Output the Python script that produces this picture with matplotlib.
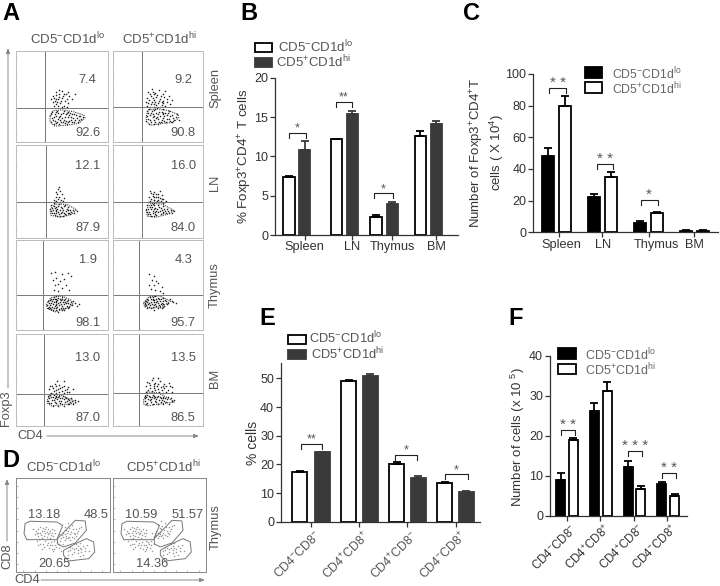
import matplotlib
matplotlib.use('Agg')
import matplotlib.pyplot as plt
from matplotlib.patches import Rectangle, Polygon

plt.rcParams['font.family'] = ['Liberation Sans', 'DejaVu Sans']
plt.rcParams['mathtext.default'] = 'regular'

W, H = 720, 586
LO = r'CD5$^{-}$CD1d$^{lo}$'
HI = r'CD5$^{+}$CD1d$^{hi}$'
TXT = '#555555'
AX = '#333333'
DARK = '#3a3a3a'

# --- bar values ---
tissues = ['Spleen', 'LN', 'Thymus', 'BM']
subsets = [r'CD4$^{-}$CD8$^{-}$', r'CD4$^{+}$CD8$^{+}$', r'CD4$^{+}$CD8$^{-}$', r'CD4$^{-}$CD8$^{+}$']

b_lo = [7.4, 12.2, 2.3, 12.6]
b_hi = [10.8, 15.4, 3.9, 14.1]
b_lo_err = [0.1, 0.05, 0.3, 0.6]
b_hi_err = [1.2, 0.4, 0.3, 0.4]

c_lo = [48, 22, 6, 1]
c_hi = [80, 35, 12, 1]
c_lo_err = [5, 2, 1, 0.5]
c_hi_err = [6, 3, 1, 0.5]

e_lo = [17.5, 49, 20.2, 13.5]
e_hi = [24.2, 50.7, 15.2, 10.3]
e_lo_err = [0.2, 0.4, 0.5, 0.3]
e_hi_err = [0.2, 1.0, 0.6, 0.3]

f_lo = [9, 26.3, 12.3, 8]
f_hi = [19, 31.3, 6.7, 5]
f_lo_err = [1.7, 1.9, 1.5, 0.5]
f_hi_err = [0.4, 2.3, 0.8, 0.4]

# --- flow percentages ---
a_top = [['7.4', '9.2'], ['12.1', '16.0'], ['1.9', '4.3'], ['13.0', '13.5']]
a_bot = [['92.6', '90.8'], ['87.9', '84.0'], ['98.1', '95.7'], ['87.0', '86.5']]

spleen_lo = [(40,50),(43,55),(47,52),(50,56),(54,53),(58,50),(61,47),(42,45),(46,47),(50,48),(53,45),(56,43),(44,41),(48,42),(52,39),(40,44),(47,57),
             (41,48),(44,51),(49,45),(51,50),(55,47),(45,44),(43,47),(47,49),(52,52),(38,47),(57,55),(64,53),(46,39),(50,38),(55,38),(41,39),
             (39,33),(42,30),(45,34),(48,28),(51,32),(54,30),(57,33),(60,27),(63,30),(66,26),(70,28),(73,27),(40,24),(43,20),(46,25),(49,21),(52,24),(55,19),(58,23),(61,21),(64,24),(67,22),(44,28),(50,26),(56,27),
             (38,30),(41,27),(43,33),(46,31),(47,27),(49,30),(52,34),(53,27),(55,32),(58,29),(59,32),(61,30),(62,26),(65,29),(68,28),(71,25),(39,26),(42,23),(45,22),(48,24),(51,21),(54,23),(57,21),(60,24),(63,22),(38,21),(41,19),(47,19),(53,20),(69,24)]
spleen_hi = [(39,55),(43,58),(47,54),(51,57),(55,52),(58,56),(62,50),(38,48),(42,50),(45,46),(48,49),(52,47),(56,45),(60,44),(39,42),(43,44),(46,41),(50,42),(54,40),(58,39),(41,38),(45,38),(49,37),
             (41,53),(45,52),(49,51),(53,50),(57,49),(40,46),(44,48),(47,44),(51,45),(54,44),(42,41),(48,40),(52,38),(56,42),(60,47),(38,39),(44,55),(37,44),(65,46),(63,41),(40,36),(47,36),(55,36),
             (38,34),(42,32),(46,35),(50,30),(54,33),(58,31),(62,34),(66,29),(70,27),(73,24),(38,28),(41,24),(44,27),(47,22),(50,25),(53,21),(56,26),(59,22),(62,25),(65,21),(68,24),(40,19),(45,19),(50,19),
             (39,31),(41,29),(43,34),(44,30),(46,28),(48,32),(49,27),(51,33),(52,28),(55,30),(56,32),(57,28),(60,29),(61,31),(63,28),(67,26),(71,30),(39,25),(42,21),(45,24),(48,26),(51,22),(54,24),(57,23),(60,25),(63,23),(37,23)]
ln_lo = [(46,52),(48,50),(45,47),(50,47),(43,44),(47,44),(52,43),(41,41),(49,41),(44,40),(46,42),(42,38),(48,38),(51,39),(47,55),(44,49),
         (38,35),(41,37),(44,33),(47,36),(50,32),(53,35),(56,33),(59,30),(62,30),(66,29),(38,29),(41,26),(44,29),(47,25),(50,28),(53,25),(56,27),(59,25),(42,32),(48,30),(54,29),(45,23),(51,23),
         (39,32),(40,30),(41,34),(43,27),(43,30),(45,31),(46,34),(46,28),(49,33),(49,27),(51,30),(52,34),(52,27),(55,31),(57,30),(58,27),(60,28),(63,27),(39,26),(42,24),(48,23),(54,24),(37,31)]
ln_hi = [(42,48),(46,49),(50,47),(54,46),(40,44),(44,45),(48,44),(52,43),(56,42),(59,40),(41,40),(45,41),(49,40),(53,39),(43,38),(47,38),(51,38),
         (44,47),(48,47),(46,44),(50,44),(42,42),(46,41),(50,41),(54,42),(39,38),(55,37),(58,38),(41,50),(52,50),
         (38,35),(41,33),(44,36),(47,32),(50,35),(53,32),(56,34),(60,31),(64,30),(68,29),(38,28),(41,25),(44,29),(47,25),(50,28),(53,25),(56,28),(59,26),(62,27),(42,31),(48,29),(45,23),
         (39,31),(40,28),(42,35),(43,33),(44,27),(45,31),(46,35),(47,28),(49,31),(51,33),(52,29),(54,30),(55,26),(57,31),(58,29),(61,29),(65,27),(39,25),(42,23),(48,24),(37,30)]
thymus_lo = [(38,63),(42,64),(50,62),(56,63),(60,60),(40,56),(44,58),(48,55),(52,57),(46,51),(42,50),(54,50),(50,47),(58,44),(46,43),(41,45),
             (35,32),(38,35),(41,37),(44,38),(47,39),(50,37),(53,35),(56,33),(60,31),(64,30),(68,29),(34,28),(37,25),(40,29),(43,32),(46,30),(49,33),(52,29),(55,27),(58,26),(40,22),(43,25),(46,20),(49,24),(52,22),(38,30),(44,28),(50,27),(36,26),(42,34),(48,35),
             (36,30),(37,33),(39,32),(40,34),(41,31),(42,27),(43,35),(44,31),(45,33),(46,36),(47,28),(48,31),(49,29),(50,34),(51,31),(52,33),(53,31),(54,30),(55,32),(57,30),(59,29),(61,28),(62,32),(66,27),(35,24),(38,23),(41,24),(44,22),(47,23),(50,22),(53,24),(56,25),(39,26),(45,26),(51,25),(37,28),(43,29)]
thymus_hi = [(40,62),(46,60),(43,56),(48,55),(40,50),(45,50),(50,52),(54,48),(42,46),(47,44),(52,43),(55,41),
             (35,32),(38,34),(41,37),(44,35),(47,38),(50,36),(53,34),(56,36),(59,32),(63,34),(67,31),(70,30),(36,27),(39,29),(42,31),(45,28),(48,31),(51,28),(54,30),(57,27),(60,29),(38,25),(42,25),(46,22),(50,24),(54,24),(44,33),(48,34),(52,32),
             (36,30),(37,32),(39,33),(40,30),(41,28),(42,34),(43,29),(44,37),(45,31),(46,33),(47,29),(49,32),(50,30),(51,34),(53,29),(55,32),(56,29),(58,33),(61,30),(65,32),(37,28),(40,26),(44,26),(48,27),(52,26),(56,26),(35,29),(38,31)]
bm_lo = [(37,44),(42,46),(47,45),(52,44),(57,42),(62,40),(36,40),(40,41),(44,39),(48,41),(53,39),(58,37),(38,36),(43,36),(47,37),(52,36),
         (39,43),(44,43),(50,42),(55,40),(41,38),(46,40),(50,38),(55,37),(45,49),(52,49),
         (35,33),(38,31),(41,34),(44,31),(47,33),(50,30),(53,32),(56,29),(60,30),(64,28),(67,27),(35,27),(38,25),(41,28),(44,25),(47,27),(50,24),(53,26),(56,24),(59,26),(62,24),(40,22),(46,22),(52,22),
         (36,30),(37,34),(39,28),(40,32),(42,30),(43,33),(45,29),(46,31),(48,30),(49,27),(51,33),(52,29),(54,30),(55,27),(58,28),(61,27),(36,25),(42,26),(48,25),(58,24)]
bm_hi = [(38,48),(43,50),(47,47),(52,49),(57,46),(62,47),(66,42),(37,43),(41,45),(45,43),(49,44),(53,42),(57,41),(61,39),(65,37),(39,39),(43,38),(47,39),(51,37),(55,36),
         (40,47),(45,46),(50,46),(55,44),(59,43),(41,41),(46,41),(50,40),(54,39),(59,37),(44,52),(50,52),(37,37),(63,43),
         (35,33),(38,34),(41,31),(44,34),(47,31),(50,33),(53,30),(56,32),(60,29),(64,30),(68,28),(35,27),(38,25),(41,28),(44,24),(47,27),(50,24),(53,26),(56,24),(59,26),(62,24),
         (36,30),(37,32),(39,29),(40,33),(42,29),(43,31),(45,30),(46,33),(48,29),(49,31),(51,28),(52,32),(54,28),(55,30),(58,30),(61,31),(65,27),(37,24),(42,26),(48,26),(57,27)]
a_dots = [[spleen_lo, spleen_hi], [ln_lo, ln_hi], [thymus_lo, thymus_hi], [bm_lo, bm_hi]]

spleen_lo_line = [(37,28),(40,34),(50,35),(62,33),(74,29),(75,26),(68,20),(55,18),(42,17),(37,22),(37,28)]
spleen_hi_line = [(37,28),(39,35),(50,36),(62,34),(72,30),(73,26),(66,21),(55,20),(42,18),(37,22),(37,28)]
ln_lo_line = [(37,30),(42,36),(55,36),(66,30),(60,25),(48,22),(38,24),(37,30)]
ln_hi_line = [(37,30),(42,37),(55,36),(68,29),(60,25),(48,22),(38,23),(37,30)]
thymus_lo_line = [(33,28),(38,36),(50,38),(60,33),(62,28),(52,23),(42,20),(34,24),(33,28)]
thymus_hi_line = [(34,30),(40,37),(52,38),(64,32),(56,27),(44,24),(35,26),(34,30)]
bm_lo_line = [(34,28),(38,35),(50,33),(62,28),(66,25),(50,23),(38,22),(34,25),(34,28)]
bm_hi_line = [(34,28),(38,37),(50,36),(62,30),(68,26),(52,24),(38,22),(34,24),(34,28)]
a_lines = [[spleen_lo_line, spleen_hi_line], [ln_lo_line, ln_hi_line],
           [thymus_lo_line, thymus_hi_line], [bm_lo_line, bm_hi_line]]

d_lo_dots = [(18,46),(22,42),(26,48),(30,44),(34,40),(38,46),(42,42),(24,38),(28,36),(32,48),(36,36),(40,38),(20,40),(30,38),(34,46),(26,42),
             (21,44),(24,46),(28,44),(31,41),(33,43),(36,44),(39,41),(27,39),(31,46),(37,39),(23,41),(29,47),(35,42),(41,45),(25,35),(33,37),
             (52,48),(56,44),(60,50),(64,46),(58,40),(62,42),(54,38),(50,42),(66,44),(48,36),(52,34),(58,34),(64,38),(70,48),(56,52),(46,40),
             (54,45),(57,47),(59,43),(61,46),(63,40),(55,41),(52,40),(49,39),(57,37),(60,37),(65,42),(67,47),(53,36),(50,37),(56,36),(62,36),
             (26,30),(30,27),(34,31),(38,25),(42,29),(46,26),(50,30),(22,33),(28,24),(36,29),(44,32),(40,22),(48,22),
             (31,33),(33,29),(37,32),(39,29),(41,33),(43,27),(45,30),(47,33),(29,30),(24,29),(35,26),(41,25),(47,29),
             (58,27),(62,24),(66,28),(70,24),(74,26),(78,22),(60,19),(66,20),(72,18),(56,22),(68,31),(76,29),
             (60,26),(64,26),(68,26),(72,28),(58,23),(62,21),(66,23),(70,21),(74,22),(64,30),(56,18),(68,17)]
d_hi_dots = [(12,46),(16,42),(20,48),(24,44),(28,40),(32,46),(36,42),(18,38),(22,36),(26,48),(30,36),(34,38),(14,40),(24,38),(28,46),(20,42),
             (15,44),(18,46),(22,44),(25,41),(27,43),(30,44),(33,41),(21,39),(25,46),(31,39),(17,41),(23,47),(29,42),(35,45),(19,35),(27,37),
             (48,50),(52,46),(56,52),(60,48),(54,42),(58,44),(50,40),(46,44),(62,46),(44,38),(48,36),(54,36),(60,40),(66,50),(52,54),(42,42),
             (50,47),(53,49),(55,45),(57,48),(59,42),(51,43),(48,42),(45,41),(53,39),(56,39),(61,44),(63,49),(49,38),(46,39),(52,38),(58,38),
             (20,30),(24,27),(28,31),(32,25),(36,29),(40,26),(44,30),(16,33),(22,24),(30,29),(38,32),(34,22),(42,22),
             (25,33),(27,29),(31,32),(33,29),(35,33),(37,27),(39,30),(41,33),(23,30),(18,29),(29,26),(35,25),(41,29),
             (56,27),(60,24),(64,28),(68,24),(72,26),(76,22),(58,19),(64,20),(70,18),(54,22),(66,31),(74,29),
             (58,26),(62,26),(66,26),(70,28),(56,23),(60,21),(64,23),(68,21),(72,22),(62,30),(54,18),(66,17)]
d_dots = [d_lo_dots, d_hi_dots]
gate_cd8 = [(9.7,51.4),(15,54),(43.7,53.2),(50,49.6),(43.7,34.4),(11.5,34.4),(8.6,40.8)]
gate_dp = [(44.4,35.5),(63.4,55),(74,54.3),(75.3,44.3),(63.4,30.9),(50.9,26.6),(44.4,30)]
gate_cd4 = [(50.9,23),(63.4,30),(75.3,35.5),(83,32),(84.2,21.3),(77.8,14.2),(56.3,11.7),(50.9,17.7)]
d_labels = [['13.18', '48.5', '20.65'], ['10.59', '51.57', '14.36']]


def px_axes(fig, left, right, top, bottom):
    return fig.add_axes([left / W, 1 - bottom / H, (right - left) / W, (bottom - top) / H])


def flow_panel(fig, box, dots, line, vx, hy, top, bot):
    ax = px_axes(fig, *box)
    ax.set_xlim(0, 100)
    ax.set_ylim(0, 100)
    ax.scatter([p[0] for p in dots], [p[1] for p in dots], s=1.3, c='#222222', linewidths=0)
    ax.plot([p[0] for p in line], [p[1] for p in line], color='#333333', lw=0.8, ls=(0, (1, 1)))
    ax.axvline(vx, color='#777777', lw=0.7)
    ax.axhline(hy, color='#777777', lw=0.7)
    ax.set_xticks([7, 30, 53, 76, 95])
    ax.set_yticks([7, 30, 53, 76, 95])
    ax.tick_params(length=1, width=0.5, color='#bbbbbb', labelbottom=False, labelleft=False, direction='in')
    for s in ax.spines.values():
        s.set_color('#bbbbbb')
        s.set_linewidth(0.7)
    ax.text(78, top[1], top[0], ha='center', va='center', fontsize=9.25, color=TXT)
    ax.text(78, bot[1], bot[0], ha='center', va='center', fontsize=9.25, color=TXT)
    return ax


def bar_panel(fig, box, ymax, yticks, xlo, xhi, width, lo, hi, lo_err, hi_err, xticks, lo_fill, hi_fill):
    ax = px_axes(fig, *box)
    ax.set_xlim(box[0], box[1])
    ax.set_ylim(0, ymax)
    ax.bar(xlo, lo, width=width, color=lo_fill, edgecolor='black', linewidth=1.3)
    ax.bar(xhi, hi, width=width, color=hi_fill, edgecolor='black' if hi_fill == 'white' else hi_fill, linewidth=1.3)
    ax.errorbar(xlo, lo, yerr=[[0] * 4, lo_err], fmt='none', ecolor='black' if lo_fill != DARK else DARK,
                elinewidth=1.3, capsize=2.6, capthick=1.3, zorder=1)
    ax.errorbar(xhi, hi, yerr=[[0] * 4, hi_err], fmt='none', ecolor='black' if hi_fill != DARK else DARK,
                elinewidth=1.3, capsize=2.6, capthick=1.3, zorder=1)
    for s in ['top', 'right']:
        ax.spines[s].set_visible(False)
    for s in ['left', 'bottom']:
        ax.spines[s].set_color('#333333')
        ax.spines[s].set_linewidth(0.9)
    ax.set_yticks(yticks)
    ax.set_xticks(xticks)
    ax.set_xticklabels([])
    ax.tick_params(length=3.5, width=0.9, color='#333333', labelsize=9, labelcolor=AX, pad=1.5)
    return ax


def bracket(ax, x1, x2, ytop, label, size=9, off=3):
    y0, y1 = ax.get_ylim()
    h_px = ax.get_position().height * H
    drop = 5 * (y1 - y0) / h_px
    ax.plot([x1, x1, x2, x2], [ytop - drop, ytop, ytop, ytop - drop], color='#222222', lw=0.8)
    ax.annotate(label, ((x1 + x2) / 2, ytop), xytext=(0, off), textcoords='offset points',
                ha='center', va='center', fontsize=size, color=TXT)


def swatch(ov, x0, x1, y0, y1, fill):
    ov.add_patch(Rectangle((x0, y0), x1 - x0, y1 - y0, facecolor=fill, edgecolor='black' if fill != DARK else DARK, lw=1.3))


fig = plt.figure(figsize=(W / 100, H / 100), dpi=100)

# panel A
a_cols = [(16, 108), (113, 203)]
a_rows = [(51, 141.5), (145, 237.5), (240, 330), (334, 426)]
a_vx = [[31.9, 32], [32.6, 32.7], [29.7, 29.4], [30.4, 29.4]]
a_hy = [[36.6, 37.7], [37.9, 37.9], [38.5, 38.5], [34.7, 35.4]]
a_top_y = [68, 77, 78, 74]
a_bot_y = [9, 10, 8, 9]
for r in range(4):
    for c in range(2):
        box = (a_cols[c][0], a_cols[c][1], a_rows[r][0], a_rows[r][1])
        flow_panel(fig, box, a_dots[r][c], a_lines[r][c], a_vx[r][c], a_hy[r][c],
                   (a_top[r][c], a_top_y[r]), (a_bot[r][c], a_bot_y[r]))

# panel D
d_cols = [(16, 109.5), (113, 206)]
d_text = [[(30, 60.5), (85.5, 60.5), (41, 8)], [(30, 60.5), (80, 60.5), (41.6, 8)]]
for c in range(2):
    ax = px_axes(fig, d_cols[c][0], d_cols[c][1], 478, 572)
    ax.set_xlim(0, 100)
    ax.set_ylim(0, 100)
    ax.scatter([p[0] for p in d_dots[c]], [p[1] for p in d_dots[c]], s=1.2, c='#999999', linewidths=0)
    for g in [gate_cd8, gate_dp, gate_cd4]:
        ax.add_patch(Polygon(g, closed=True, fill=False, edgecolor='#777777', lw=0.7))
    ax.set_xticks([8, 20, 32, 44, 56, 68, 80, 92])
    ax.set_yticks([8, 20, 32, 44, 56, 68, 80, 92])
    ax.tick_params(length=1.2, width=0.5, color='#999999', labelbottom=False, labelleft=False, direction='in')
    for s in ax.spines.values():
        s.set_color('#888888')
        s.set_linewidth(0.7)
    for label, pos in zip(d_labels[c], d_text[c]):
        ax.text(pos[0], pos[1], label, ha='center', va='center', fontsize=9.25, color=TXT, clip_on=False)

# panel B
ax_b = bar_panel(fig, (275, 458, 77.7, 235), 20, [0, 5, 10, 15, 20],
                 [289, 336.3, 376, 420.3], [304.8, 352.2, 392.2, 436.2], 11.3,
                 b_lo, b_hi, b_lo_err, b_hi_err, [304.8, 352.2, 392.2, 436.2], 'white', DARK)
bracket(ax_b, 289.3, 306, 13.0, '*')
bracket(ax_b, 335.7, 352.3, 16.9, '**')
bracket(ax_b, 374.3, 393, 5.3, '*')

# panel C
ax_c = bar_panel(fig, (533.3, 718, 74, 232.3), 100, [0, 20, 40, 60, 80, 100],
                 [547.8, 593.8, 639.8, 686.2], [564.7, 611, 657.3, 703], 12,
                 c_lo, c_hi, c_lo_err, c_hi_err, [558.7, 602.3, 649, 694.3], 'black', 'white')
bracket(ax_c, 549.3, 566.3, 91, '* *', size=11, off=3.5)
bracket(ax_c, 596.7, 613.3, 43.4, '* *', size=11, off=3.5)
bracket(ax_c, 640.7, 657.7, 20.4, '*', size=11, off=3.5)

# panel E
e_ticks = [310.7, 359.3, 407, 455.7]
ax_e = bar_panel(fig, (281, 480, 363.3, 521.7), 55.3, [0, 10, 20, 30, 40, 50],
                 [299.7, 348.8, 396.8, 444.7], [322, 370, 418, 466], 15,
                 e_lo, e_hi, e_lo_err, e_hi_err, e_ticks, 'white', DARK)
bracket(ax_e, 300.7, 322.3, 27.2, '**')
bracket(ax_e, 394.7, 417.3, 23.3, '*')
bracket(ax_e, 445, 467.7, 16.5, '*')

# panel F
f_ticks = [566.7, 600, 634, 667.3]
ax_f = bar_panel(fig, (550, 686.7, 356, 515.7), 40, [0, 10, 20, 30, 40],
                 [560.5, 594.3, 628.2, 661.8], [573, 607, 640.8, 674.5], 9,
                 f_lo, f_hi, f_lo_err, f_hi_err, f_ticks, 'black', 'white')
bracket(ax_f, 560.7, 574.7, 21.5, '* *', size=11, off=3.5)
bracket(ax_f, 627.7, 641.7, 16.3, '* * *', size=11, off=3.5)
bracket(ax_f, 661.7, 675.7, 10.7, '* *', size=11, off=3.5)

# overlay in figure pixels for labels, legends and arrows
ov = fig.add_axes([0, 0, 1, 1], zorder=10)
ov.set_xlim(0, W)
ov.set_ylim(H, 0)
ov.axis('off')

for label, x, y in [('A', 2, 20), ('B', 240, 20), ('C', 463, 20), ('D', 2, 467), ('E', 259, 325), ('F', 508, 325)]:
    ov.text(x, y, label, fontsize=17, fontweight='bold', color='black', ha='left', va='baseline')

for x, y, t in [(68, 39, LO), (160, 39, HI), (64, 467, LO), (164, 467, HI)]:
    ov.text(x, y, t, ha='center', va='center', fontsize=9.5, color=TXT)

for y, t in [(88, 'Spleen'), (183, 'LN'), (285, 'Thymus'), (378, 'BM')]:
    ov.text(215, y, t, rotation=90, ha='center', va='center', fontsize=9.25, color=TXT)
ov.text(216, 527, 'Thymus', rotation=90, ha='center', va='center', fontsize=9.25, color=TXT)

ov.text(6, 408, 'Foxp3', rotation=90, ha='center', va='center', fontsize=9.25, color=TXT)
ov.text(30, 436, 'CD4', ha='center', va='center', fontsize=9.25, color=TXT)
ov.text(7, 556, 'CD8', rotation=90, ha='center', va='center', fontsize=9.25, color=TXT)
ov.text(27, 580, 'CD4', ha='center', va='center', fontsize=9.25, color=TXT)

arrow = dict(arrowstyle='-|>,head_width=0.12,head_length=0.3', color='#888888', lw=0.7, shrinkA=0, shrinkB=0)
ov.annotate('', xy=(8, 48), xytext=(8, 388), arrowprops=arrow)
ov.annotate('', xy=(199, 436), xytext=(47, 436), arrowprops=arrow)
ov.annotate('', xy=(7, 479), xytext=(7, 541), arrowprops=arrow)
ov.annotate('', xy=(205, 580), xytext=(41, 580), arrowprops=arrow)

# legends
swatch(ov, 255, 272, 43, 51.5, 'white')
swatch(ov, 255, 272, 58, 66.5, DARK)
ov.text(277.5, 47.5, LO, va='center', fontsize=9.5, color=TXT)
ov.text(276.5, 62.5, HI, va='center', fontsize=9.5, color=TXT)

swatch(ov, 584.5, 602, 67, 77.5, 'black')
swatch(ov, 584.5, 602, 82, 92.5, 'white')
ov.text(611.5, 73.5, LO, va='center', fontsize=8.8, color='#666666')
ov.text(611.5, 89, HI, va='center', fontsize=8.8, color='#666666')

swatch(ov, 288, 306, 334.5, 344, 'white')
swatch(ov, 288, 306, 349.5, 359, DARK)
ov.text(309, 338.5, LO, va='center', fontsize=9.3, color=TXT)
ov.text(311, 354, HI, va='center', fontsize=9.3, color=TXT)

swatch(ov, 558, 576, 348, 359, 'black')
swatch(ov, 558, 576, 363.5, 374, 'white')
ov.text(585, 355, LO, va='center', fontsize=9, color='#666666')
ov.text(585, 370, HI, va='center', fontsize=9, color='#666666')

# category labels
for x, t in zip([304.7, 352.5, 392.5, 436.5], tissues):
    ov.text(x, 247, t, ha='center', va='center', fontsize=9.2, color=AX)
for x, t in zip([561.7, 602.7, 656, 694.3], tissues):
    ov.text(x, 245, t, ha='center', va='center', fontsize=9.2, color=AX)
for x, t in zip(e_ticks, subsets):
    ov.text(x + 4, 528, t, rotation=45, rotation_mode='anchor', ha='right', va='top', fontsize=8.8, color=TXT)
for x, t in zip(f_ticks, subsets):
    ov.text(x + 4, 522, t, rotation=45, rotation_mode='anchor', ha='right', va='top', fontsize=8.4, color=AX)

# y labels
ov.text(245, 156, r'% Foxp3$^{+}$CD4$^{+}$ T cells', rotation=90, ha='center', va='center', fontsize=9.6, color=AX)
ov.text(477, 153, r'Number of Foxp3$^{+}$CD4$^{+}$T', rotation=90, ha='center', va='center', fontsize=9.5, color=AX)
ov.text(497, 153, r'cells ( X 10$^{4}$)', rotation=90, ha='center', va='center', fontsize=9.5, color=AX)
ov.text(253, 443, '% cells', rotation=90, ha='center', va='center', fontsize=10, color=AX)
ov.text(518, 437, r'Number of cells (x 10 $^{5}$)', rotation=90, ha='center', va='center', fontsize=9.5, color=AX)

fig.savefig('out.png', dpi=100)
